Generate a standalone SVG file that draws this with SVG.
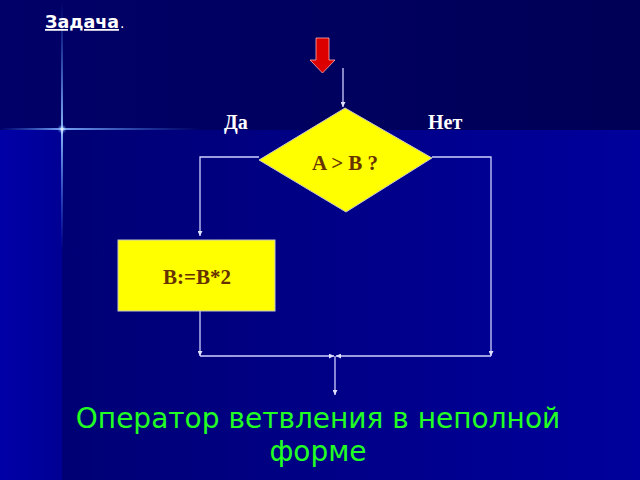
<svg xmlns="http://www.w3.org/2000/svg" width="640" height="480" viewBox="0 0 640 480">
<defs>
<linearGradient id="main" x1="0" y1="0" x2="1" y2="0">
<stop offset="0" stop-color="#000070"/>
<stop offset="1" stop-color="#00009C"/>
</linearGradient>
<linearGradient id="strip" x1="0" y1="0" x2="1" y2="0">
<stop offset="0" stop-color="#0000A8"/>
<stop offset="1" stop-color="#000094"/>
</linearGradient>
<linearGradient id="top" x1="0" y1="0" x2="1" y2="0">
<stop offset="0" stop-color="#000068"/>
<stop offset="1" stop-color="#000056"/>
</linearGradient>
<linearGradient id="flareH" x1="0" y1="0" x2="1" y2="0">
<stop offset="0" stop-color="#4080FF" stop-opacity="0"/>
<stop offset="0.3" stop-color="#80B0FF" stop-opacity="0.9"/>
<stop offset="0.31" stop-color="#FFFFFF"/>
<stop offset="0.33" stop-color="#80B0FF" stop-opacity="0.9"/>
<stop offset="1" stop-color="#4080FF" stop-opacity="0"/>
</linearGradient>
<linearGradient id="flareV" x1="0" y1="0" x2="0" y2="1">
<stop offset="0" stop-color="#4080FF" stop-opacity="0"/>
<stop offset="0.5" stop-color="#90C0FF" stop-opacity="0.9"/>
<stop offset="0.52" stop-color="#FFFFFF"/>
<stop offset="0.54" stop-color="#90C0FF" stop-opacity="0.9"/>
<stop offset="1" stop-color="#4080FF" stop-opacity="0"/>
</linearGradient>
<radialGradient id="glow">
<stop offset="0" stop-color="#FFFFFF"/>
<stop offset="0.4" stop-color="#A0C8FF" stop-opacity="0.6"/>
<stop offset="1" stop-color="#4080FF" stop-opacity="0"/>
</radialGradient>
<marker id="arr" viewBox="0 0 10 10" refX="10" refY="5" markerWidth="5" markerHeight="5" orient="auto-start-reverse" markerUnits="userSpaceOnUse">
<path d="M0,0 L10,5 L0,10 z" fill="#E0E0FF"/>
</marker>
<style>
.ln{fill:none;stroke:#D0D0FF;stroke-width:1.3}
.lbl{font-family:"Liberation Serif",serif;font-weight:bold;font-size:20px;fill:#FFFFFF}
.nt{font-family:"Liberation Serif",serif;font-weight:bold;font-size:21px;fill:#663300;text-anchor:middle}
.cap{font-family:"DejaVu Sans","Noto Sans",sans-serif;font-size:28px;fill:#22FF22;text-anchor:middle}
</style>
</defs>
<rect x="0" y="0" width="640" height="480" fill="url(#main)"/>
<rect x="0" y="130" width="62" height="350" fill="url(#strip)"/>
<rect x="0" y="0" width="640" height="130" fill="url(#top)"/>
<rect x="0" y="128" width="200" height="2" fill="url(#flareH)"/>
<rect x="61" y="0" width="2" height="250" fill="url(#flareV)"/>
<circle cx="62" cy="129" r="5" fill="url(#glow)"/>

<text x="45" y="28" font-family="DejaVu Sans, sans-serif" font-weight="bold" font-size="17.5" fill="#FFFFFF" text-decoration="underline">Задача</text>
<text x="120" y="28" font-family="DejaVu Sans, sans-serif" font-size="14" fill="#FFFFFF">.</text>

<g id="start-arrow">
<path d="M316,38 L329,38 L329,60 L335,60 L322.5,73 L310,60 L316,60 Z" fill="#DD0000" stroke="#FFB0B0" stroke-width="0.8"/>
</g>

<g id="connectors">
<line class="ln" x1="343" y1="68" x2="343" y2="107" marker-end="url(#arr)"/>
<polyline class="ln" points="259,157 200,157 200,236" marker-end="url(#arr)"/>
<line class="ln" x1="200" y1="311" x2="200" y2="356" marker-end="url(#arr)"/>
<line class="ln" x1="200" y1="356" x2="334" y2="356" marker-end="url(#arr)"/>
<polyline class="ln" points="432,157 491,157 491,356" marker-end="url(#arr)"/>
<line class="ln" x1="491" y1="356" x2="336" y2="356" marker-end="url(#arr)"/>
<line class="ln" x1="335" y1="356" x2="335" y2="395" marker-end="url(#arr)"/>
</g>

<g id="cond">
<polygon points="345,108 432,158 346,212 259,160" fill="#FFFF00" stroke="#C8C8C8" stroke-width="1"/>
<text class="nt" x="345" y="170">A &gt; B ?</text>
</g>
<text class="lbl" x="224" y="129">Да</text>
<text class="lbl" x="428" y="129">Нет</text>

<g id="action">
<rect x="118" y="240" width="157" height="71" fill="#FFFF00" stroke="#C8C8C8" stroke-width="1"/>
<text class="nt" x="197" y="284">B:=B*2</text>
</g>

<text class="cap" x="318" y="428">Оператор ветвления в неполной</text>
<text class="cap" x="318" y="461">форме</text>
</svg>
